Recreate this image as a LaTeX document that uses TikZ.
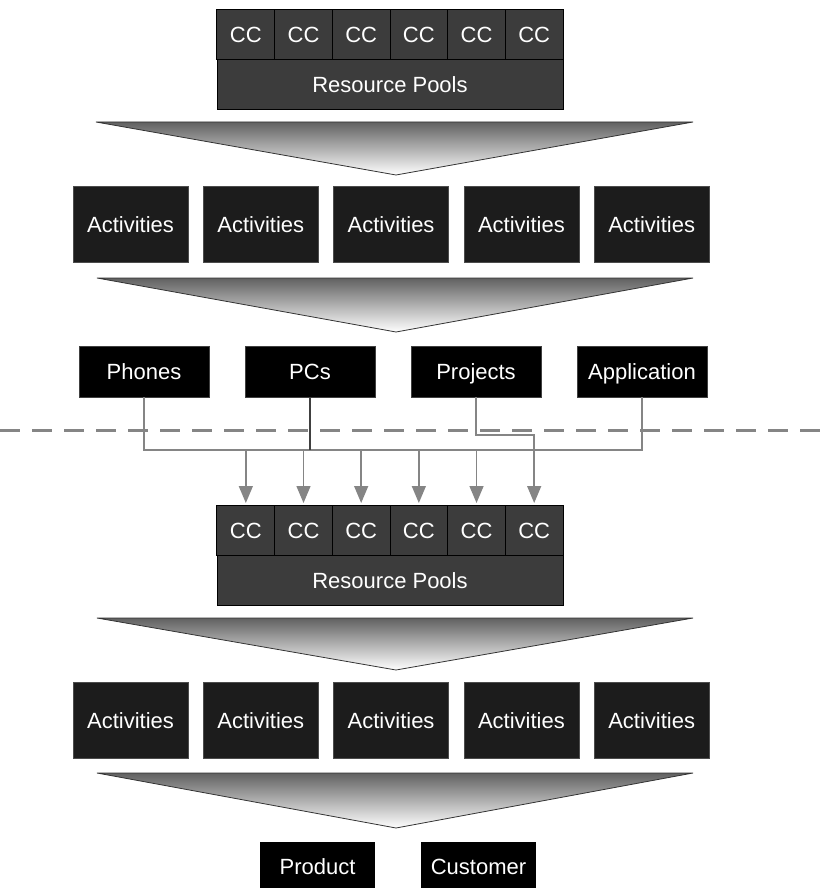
\documentclass[tikz,border=0pt]{standalone}
\usepackage{fontspec}
\setmainfont{Liberation Sans}
\usetikzlibrary{arrows.meta,positioning}
\definecolor{cell}{HTML}{3C3C3C}
\definecolor{actfill}{HTML}{1C1C1C}
\definecolor{wire}{HTML}{858585}

\begin{document}
\begin{tikzpicture}[x=1pt,y=-1pt,
    every node/.style={font=\fontsize{22}{24}\selectfont,text=white,inner sep=0pt,
      text height=16pt,text depth=0pt},
    ccbox/.style={fill=cell,draw=black,line width=1pt,minimum width=57.7pt,minimum height=50pt},
    poolbox/.style={fill=cell,draw=black,line width=1pt,minimum width=346pt,minimum height=50pt},
    actbox/.style={fill=actfill,draw=gray!60!black,minimum width=115pt,minimum height=76pt},
    itembox/.style={fill=black,draw=gray!50!black,minimum width=130pt,minimum height=51pt},
    outbox/.style={fill=black,minimum width=115pt,minimum height=48pt},
    funnel/.style={draw=black!80,line width=0.8pt,top color=black!62,bottom color=white},
    conn/.style={draw=wire,line width=1.4pt},
    arr/.style={conn,-{Triangle[width=14pt,length=17pt]},shorten >=2pt}]
  \useasboundingbox (0,0) rectangle (828,888);
  % upper half
  \foreach \i in {1,...,6}
    \node[ccbox] (cc-t\i) at ({217+57.67*(\i-0.5)},35) {CC};
  \node[poolbox] (pool-t) at (390,84.5) {Resource Pools};
  \shade[funnel] (96,122) -- (693,122) -- (396,175) -- cycle;
  \foreach \i in {1,...,5}
    \node[actbox] (act-t\i) at ({130.5+130.3*(\i-1)},224) {Activities};
  \shade[funnel] (97,278) -- (693,278) -- (396,332) -- cycle;
  \foreach \n/\t [count=\i] in {phones/Phones,pcs/PCs,projects/Projects,app/Application}
    \node[itembox] (\n) at ({144+166*(\i-1)},371.5) {\t};
  % lower half
  \foreach \i in {1,...,6}
    \node[ccbox] (cc-b\i) at ({217+57.67*(\i-0.5)},530.5) {CC};
  \node[poolbox] (pool-b) at (390,580.5) {Resource Pools};
  \shade[funnel] (97,618) -- (693,618) -- (396,670) -- cycle;
  \foreach \i in {1,...,5}
    \node[actbox] (act-b\i) at ({130.5+130.3*(\i-1)},720) {Activities};
  \shade[funnel] (97,773) -- (693,773) -- (396,828) -- cycle;
  \node[outbox] (product) at (317.5,866) {Product};
  \node[outbox] (customer) at (478.5,866) {Customer};
  % connectors
  \coordinate (bus) at (0,450);
  \coordinate (jog) at (0,435);
  \draw[conn] (phones.south) |- (bus -| app.south) -- (app.south);
  \draw[conn,draw=black!75] (pcs.south) -- (pcs.south |- bus);
  \foreach \i in {1,...,5}
    \draw[arr] (cc-b\i.north |- bus) -- (cc-b\i.north);
  \draw[arr] (projects.south) |- (jog -| cc-b6.north) -- (cc-b6.north);
  \draw[wire,line width=3pt,dash pattern=on 20pt off 12pt] (0,430) -- (828,430);
\end{tikzpicture}
\end{document}
